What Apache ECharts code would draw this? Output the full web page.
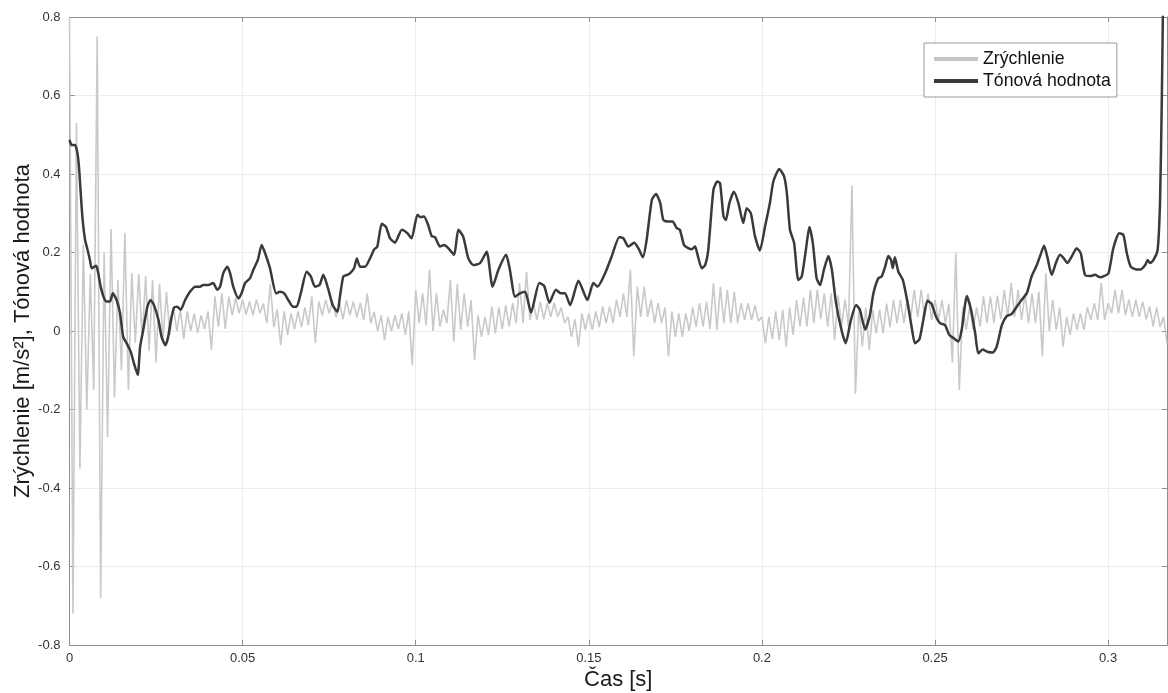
<!DOCTYPE html>
<html>
<head>
<meta charset="utf-8">
<script src="https://cdn.jsdelivr.net/npm/echarts@6/dist/echarts.min.js"></script>
<style>
html,body{margin:0;padding:0;background:#fff;}
#chart{width:1168px;height:693px;}
</style>
</head>
<body>
<div id="chart"></div>
<script>
// ---- data ----
const seriesNames = ['Zrýchlenie', 'Tónová hodnota'];
const xAxisTitle = 'Čas [s]';
const yAxisTitle = 'Zrýchlenie [m/s²], Tónová hodnota';

// acceleration samples, one every accStep seconds, starting at t = 0
const accStep = 0.001;
const accValues = [
  0.80,-0.72,0.53,-0.35,0.22,-0.20,0.145,-0.15,0.75,-0.68,
  0.20,-0.27,0.26,-0.17,0.13,-0.10,0.25,-0.15,0.148,-0.03,
  0.145,-0.02,0.14,-0.05,0.13,-0.08,0.12,-0.02,0.10,-0.01,
  0.06,0.00,0.055,-0.02,0.05,0.00,0.045,-0.005,0.04,0.005,
  0.05,-0.048,0.088,0.011,0.096,0.005,0.088,0.04,0.085,0.045,
  0.08,0.042,0.075,0.04,0.08,0.045,0.07,0.02,0.12,0.01,
  0.055,-0.036,0.05,-0.01,0.045,0.005,0.05,0.01,0.06,0.015,
  0.088,-0.031,0.075,0.04,0.079,0.045,0.075,0.035,0.072,0.03,
  0.078,0.04,0.075,0.035,0.072,0.028,0.096,0.02,0.049,0.0,
  0.04,-0.023,0.036,0.0,0.04,0.005,0.045,-0.01,0.05,-0.087,
  0.105,0.02,0.096,0.015,0.156,0.0,0.096,0.011,0.054,0.02,
  0.13,-0.027,0.12,0.003,0.096,0.011,0.079,-0.074,0.04,-0.015,
  0.036,-0.01,0.062,-0.006,0.06,0.005,0.065,0.011,0.071,0.02,
  0.122,0.02,0.15,0.028,0.071,0.028,0.075,0.03,0.071,0.036,
  0.072,0.036,0.06,0.02,0.036,-0.015,0.03,-0.04,0.045,0.003,
  0.045,0.003,0.05,0.01,0.062,0.02,0.062,0.02,0.08,0.036,
  0.096,0.036,0.156,-0.065,0.113,0.036,0.113,0.036,0.08,0.02,
  0.071,0.02,0.06,-0.065,0.05,-0.015,0.045,-0.015,0.045,0.0,
  0.06,0.011,0.071,0.011,0.075,0.005,0.122,0.003,0.113,0.02,
  0.105,0.02,0.1,0.02,0.071,0.028,0.071,0.028,0.065,0.025,
  0.036,-0.031,0.036,-0.02,0.05,-0.023,0.054,-0.04,0.06,-0.01,
  0.079,0.011,0.085,0.011,0.105,0.02,0.105,0.03,0.096,0.011,
  0.096,-0.023,0.09,0.011,0.08,0.011,0.37,-0.16,0.062,-0.04,
  0.06,-0.048,0.054,-0.006,0.054,-0.006,0.07,0.01,0.079,0.02,
  0.079,0.02,0.085,0.036,0.105,0.036,0.105,0.036,0.095,0.028,
  0.079,0.028,0.079,0.02,0.07,-0.08,0.2,-0.15,0.062,0.003,
  0.062,0.003,0.06,0.011,0.088,0.02,0.088,0.02,0.09,0.03,
  0.105,0.036,0.122,0.036,0.105,0.028,0.096,0.02,0.096,0.02,
  0.1,-0.065,0.147,0.0,0.079,0.003,0.06,-0.04,0.036,-0.01,
  0.045,0.003,0.045,0.003,0.06,0.028,0.071,0.028,0.122,0.028,
  0.071,0.045,0.105,0.045,0.105,0.04,0.08,0.036,0.079,0.036,
  0.075,0.03,0.062,0.011,0.06,0.011,0.036,-0.031
];

// tone value curve: time [s] and value
const toneTime = [
  0,0.0006,0.0016,0.0023,0.0028,0.0033,0.0038,0.0045,0.0051,0.0059,
  0.0064,0.0077,0.0083,0.009,0.0098,0.0107,0.0117,0.0125,0.0136,0.0146,
  0.0155,0.0165,0.0177,0.0186,0.0197,0.0204,0.0213,0.0225,0.0234,0.0244,
  0.0257,0.0266,0.0277,0.0285,0.0293,0.0302,0.0311,0.0321,0.0334,0.0348,
  0.0363,0.0377,0.0386,0.0401,0.0415,0.0427,0.0435,0.0444,0.0456,0.0464,
  0.0473,0.0488,0.0497,0.0507,0.0521,0.0531,0.0544,0.0555,0.0565,0.0579,
  0.0597,0.0608,0.062,0.0632,0.0646,0.0656,0.0668,0.0685,0.0697,0.0709,
  0.0722,0.0733,0.0748,0.076,0.0774,0.0781,0.0791,0.0802,0.081,0.0822,
  0.083,0.0839,0.0854,0.0868,0.088,0.0889,0.0902,0.0914,0.0926,0.094,
  0.096,0.0976,0.0988,0.1005,0.1014,0.1024,0.1036,0.1046,0.1056,0.107,
  0.1082,0.1094,0.1111,0.1123,0.1137,0.1152,0.1166,0.1186,0.1205,0.1222,
  0.1239,0.1261,0.1272,0.1287,0.1301,0.1316,0.1333,0.1357,0.1371,0.1386,
  0.1405,0.1419,0.1431,0.1446,0.147,0.1496,0.1513,0.1525,0.1547,0.1566,
  0.1588,0.16,0.1614,0.1631,0.1643,0.1656,0.1667,0.1682,0.1694,0.1706,
  0.1715,0.1727,0.1742,0.1754,0.1763,0.1775,0.1787,0.1797,0.1807,0.1813,
  0.1826,0.1836,0.1845,0.186,0.1871,0.1879,0.1889,0.1896,0.1906,0.1919,
  0.1932,0.1946,0.1956,0.1968,0.198,0.1994,0.2009,0.2023,0.2033,0.205,
  0.2064,0.2072,0.2081,0.2093,0.2105,0.2115,0.2127,0.2137,0.2147,0.2158,
  0.2168,0.2179,0.2192,0.2202,0.2214,0.2231,0.2242,0.2257,0.2272,0.2283,
  0.2298,0.2312,0.2322,0.2336,0.2346,0.2356,0.2365,0.2373,0.2378,0.2384,
  0.2394,0.2407,0.242,0.2433,0.2442,0.2455,0.2466,0.2478,0.249,0.2503,
  0.2514,0.2529,0.2541,0.2555,0.2567,0.2577,0.2592,0.2604,0.2616,0.2625,
  0.2638,0.2651,0.2667,0.2678,0.2693,0.2707,0.2721,0.2736,0.275,0.2765,
  0.2779,0.2794,0.2803,0.2815,0.2824,0.2837,0.2849,0.2861,0.2872,0.2882,
  0.2895,0.2909,0.2921,0.2933,0.2948,0.2962,0.2977,0.2986,0.3001,0.3015,
  0.3032,0.3044,0.3054,0.3065,0.3081,0.3094,0.3107,0.3114,0.3121,0.3131,
  0.3143,0.315,0.3155,0.3158,0.316
];
const toneValues = [
  0.487,0.474,0.474,0.453,0.411,0.343,0.283,0.232,0.211,0.181,
  0.160,0.166,0.147,0.113,0.088,0.075,0.075,0.096,0.079,0.045,
  -0.015,-0.031,-0.053,-0.082,-0.112,-0.040,0.003,0.062,0.079,0.066,
  0.028,-0.015,-0.036,-0.015,0.028,0.060,0.062,0.054,0.079,0.100,
  0.113,0.113,0.117,0.117,0.122,0.105,0.113,0.147,0.164,0.147,
  0.113,0.083,0.096,0.122,0.134,0.156,0.181,0.219,0.198,0.160,
  0.096,0.100,0.096,0.079,0.062,0.062,0.096,0.151,0.139,0.113,
  0.117,0.143,0.105,0.066,0.049,0.087,0.139,0.143,0.147,0.160,
  0.185,0.164,0.164,0.185,0.208,0.215,0.273,0.265,0.236,0.225,
  0.258,0.249,0.236,0.296,0.290,0.292,0.270,0.242,0.239,0.215,
  0.219,0.211,0.194,0.258,0.241,0.185,0.168,0.173,0.202,0.113,
  0.156,0.194,0.156,0.087,0.096,0.100,0.047,0.122,0.115,0.072,
  0.105,0.096,0.096,0.066,0.128,0.079,0.122,0.113,0.147,0.190,
  0.239,0.236,0.215,0.225,0.211,0.188,0.232,0.334,0.349,0.327,
  0.283,0.279,0.279,0.262,0.258,0.219,0.211,0.208,0.215,0.198,
  0.160,0.168,0.207,0.360,0.381,0.377,0.292,0.283,0.326,0.355,
  0.326,0.275,0.313,0.300,0.241,0.205,0.266,0.326,0.381,0.413,
  0.394,0.351,0.258,0.224,0.130,0.139,0.207,0.265,0.224,0.134,
  0.117,0.156,0.191,0.156,0.071,-0.002,-0.031,0.028,0.066,0.054,
  0.004,0.041,0.096,0.134,0.139,0.164,0.191,0.181,0.160,0.188,
  0.151,0.130,0.075,0.007,-0.031,-0.021,0.028,0.077,0.069,0.036,
  0.020,0.015,-0.010,-0.019,-0.027,0.003,0.089,0.054,-0.006,-0.057,
  -0.047,-0.053,-0.055,-0.040,0.015,0.038,0.043,0.062,0.079,0.096,
  0.139,0.168,0.190,0.217,0.190,0.143,0.173,0.194,0.185,0.173,
  0.190,0.211,0.198,0.143,0.140,0.143,0.137,0.139,0.147,0.211,
  0.249,0.245,0.198,0.164,0.157,0.157,0.168,0.181,0.173,0.181,
  0.207,0.334,0.589,0.80,0.95
];

// axis extents / ticks
const xMin = 0, xMax = 0.317, xInterval = 0.05;
const yMin = -0.8, yMax = 0.8, yInterval = 0.2;

// ---- build ----
const accData = accValues.map((v, i) => [+(i * accStep).toFixed(4), v]);
const toneData = toneTime.map((t, i) => [t, toneValues[i]]);

const frame = '#8e8e8e';
const fmtX = v => (Math.abs(v) < 1e-9 ? '0' : String(+v.toFixed(2)));
const fmtY = v => (Math.abs(v) < 1e-9 ? '0' : String(+v.toFixed(1)));
const font = 'Liberation Sans, Arial, sans-serif';

const chart = echarts.init(document.getElementById('chart'), null, {renderer: 'canvas'});
chart.setOption({
  animation: false,
  backgroundColor: '#ffffff',
  color: ['#c9c9c9', '#3a3a3a'],
  grid: {left: 69.5, right: 1, top: 17, bottom: 48, containLabel: false, outerBoundsMode: 'none'},
  legend: {
    orient: 'vertical',
    left: 924, top: 43,
    padding: [7, 6, 7, 10],
    itemGap: 4,
    itemWidth: 44, itemHeight: 4,
    borderColor: '#9a9a9a', borderWidth: 1, borderRadius: 0,
    backgroundColor: '#ffffff',
    textStyle: {fontFamily: font, fontSize: 17.7, color: '#111', padding: [0, 0, 0, 0]},
    data: [
      {name: seriesNames[0], icon: 'rect', itemStyle: {color: '#c6c6c6'}},
      {name: seriesNames[1], icon: 'rect', itemStyle: {color: '#3a3a3a'}}
    ]
  },
  xAxis: [{
    type: 'value', min: xMin, max: xMax, interval: xInterval, position: 'bottom',
    name: xAxisTitle, nameLocation: 'middle', nameGap: 24, nameMoveOverlap: false,
    nameTextStyle: {fontFamily: font, fontSize: 22, color: '#1a1a1a'},
    axisLine: {show: true, onZero: false, lineStyle: {color: frame, width: 1}},
    axisTick: {show: true, inside: true, length: 5, lineStyle: {color: frame}},
    axisLabel: {fontFamily: font, fontSize: 13, color: '#333', margin: 7, formatter: fmtX, showMaxLabel: false},
    splitLine: {show: true, lineStyle: {color: '#ececec', width: 1}}
  }, {
    type: 'value', min: xMin, max: xMax, interval: xInterval, position: 'top',
    axisLine: {show: true, onZero: false, lineStyle: {color: frame, width: 1}},
    axisTick: {show: true, inside: true, length: 5, lineStyle: {color: frame}},
    axisLabel: {show: false}, splitLine: {show: false}
  }],
  yAxis: [{
    type: 'value', min: yMin, max: yMax, interval: yInterval, position: 'left',
    name: yAxisTitle, nameLocation: 'middle', nameGap: 36, nameRotate: 90, nameMoveOverlap: false,
    nameTextStyle: {fontFamily: font, fontSize: 22, color: '#1a1a1a'},
    axisLine: {show: true, onZero: false, lineStyle: {color: frame, width: 1}},
    axisTick: {show: true, inside: true, length: 5, lineStyle: {color: frame}},
    axisLabel: {fontFamily: font, fontSize: 13, color: '#333', margin: 9, formatter: fmtY},
    splitLine: {show: true, lineStyle: {color: '#ececec', width: 1}}
  }, {
    type: 'value', min: yMin, max: yMax, interval: yInterval, position: 'right',
    axisLine: {show: true, onZero: false, lineStyle: {color: frame, width: 1}},
    axisTick: {show: true, inside: true, length: 5, lineStyle: {color: frame}},
    axisLabel: {show: false}, splitLine: {show: false}
  }],
  series: [{
    name: seriesNames[0], type: 'line', data: accData,
    xAxisIndex: 0, yAxisIndex: 0,
    symbol: 'none', showSymbol: false,
    lineStyle: {color: '#c9c9c9', width: 1.6},
    itemStyle: {color: '#c9c9c9'},
    clip: true, z: 2
  }, {
    name: seriesNames[1], type: 'line', data: toneData,
    xAxisIndex: 0, yAxisIndex: 0,
    symbol: 'none', showSymbol: false, smooth: 0.2,
    lineStyle: {color: '#3a3a3a', width: 2.5},
    itemStyle: {color: '#3a3a3a'},
    clip: true, z: 3
  }]
});
</script>
</body>
</html>
